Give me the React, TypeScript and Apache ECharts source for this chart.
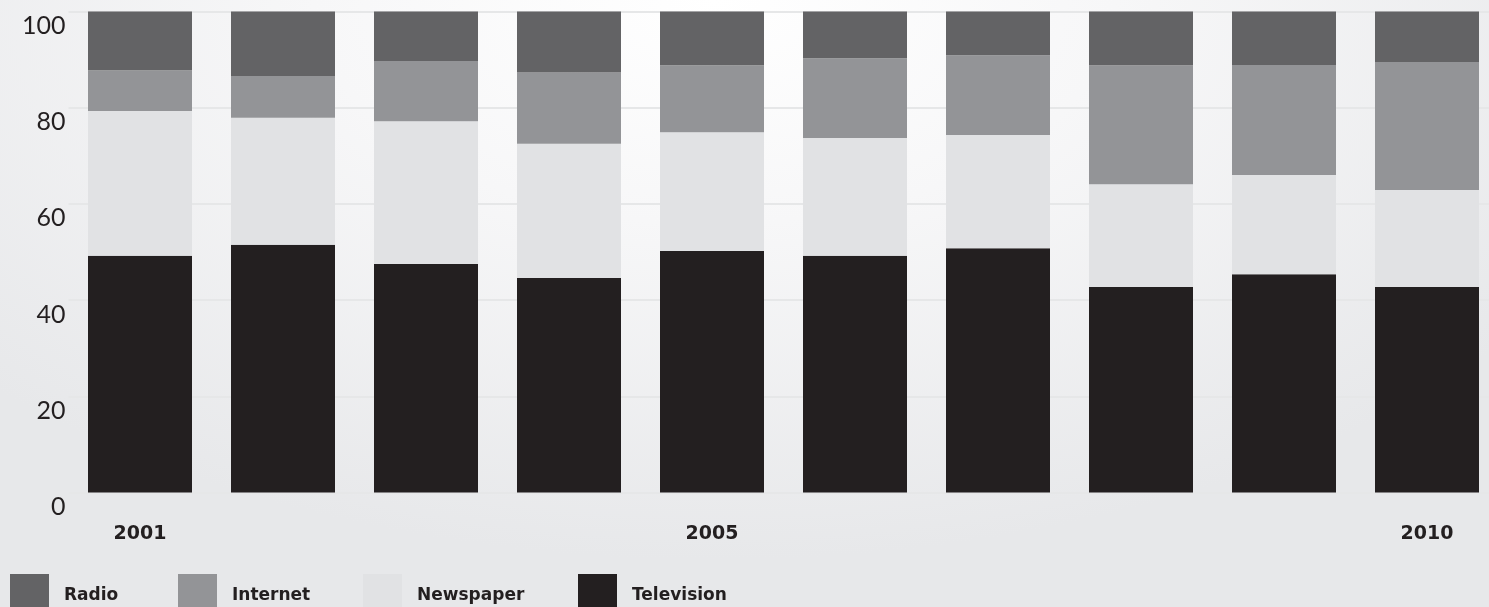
import React, { useEffect, useRef } from "react";
import * as echarts from "echarts";

const years = ["2001", "2002", "2003", "2004", "2005", "2006", "2007", "2008", "2009", "2010"];
const television = [49.2, 51.5, 47.5, 44.6, 50.2, 49.2, 50.8, 42.7, 45.4, 42.7];
const newspaper = [30.1, 26.4, 29.7, 27.9, 24.7, 24.5, 23.5, 21.4, 20.6, 20.2];
const internet = [8.5, 8.7, 12.5, 14.8, 13.9, 16.6, 16.6, 24.7, 22.9, 26.6];
const radio = [12.2, 13.4, 10.3, 12.7, 11.2, 9.7, 9.1, 11.2, 11.1, 10.5];
const shownYearIdx = [0, 4, 9];
const legendNames = ["Radio", "Internet", "Newspaper", "Television"];
const legendLeft = [10, 178, 363, 578];

const colors: Record<string, string> = {
  Television: "#231f20",
  Newspaper: "#e1e2e4",
  Internet: "#939497",
  Radio: "#636365",
};

export default function App() {
  const ref = useRef<HTMLDivElement>(null);
  useEffect(() => {
    document.body.style.margin = "0";
    const chart = echarts.init(ref.current!, null, { renderer: "svg" });
    const mk = (name: string, data: number[]) => ({
      name,
      type: "bar",
      stack: "total",
      barWidth: 104,
      data,
      itemStyle: { color: colors[name] },
      emphasis: { disabled: true },
    });
    chart.setOption({
      animation: false,
      backgroundColor: "transparent",
      grid: {
        left: 68.5,
        width: 1430,
        top: 11.5,
        bottom: 114.5,
        containLabel: false,
        outerBoundsMode: "none",
      },
      xAxis: {
        type: "category",
        data: years,
        axisLine: { show: false },
        axisTick: { show: false },
        axisLabel: {
          interval: (i: number) => shownYearIdx.includes(i),
          margin: 30,
          color: "#231f20",
          fontFamily: "DejaVu Sans",
          fontWeight: "bold",
          fontSize: 19,
        },
      },
      yAxis: {
        type: "value",
        min: 0,
        max: 100,
        interval: 20,
        axisLine: { show: false },
        axisTick: { show: false },
        splitLine: { show: true, lineStyle: { color: "#e6e7e8", width: 2 } },
        axisLabel: {
          margin: 3,
          color: "#231f20",
          fontFamily: "Lato",
          fontSize: 25,
          verticalAlign: "top",
        },
      },
      legend: legendNames.map((n, i) => ({
        data: [n],
        left: legendLeft[i],
        top: 574,
        itemWidth: 39,
        itemHeight: 39,
        icon: "rect",
        selectedMode: false,
        padding: 0,
        textStyle: {
          color: "#231f20",
          fontFamily: "DejaVu Sans",
          fontWeight: "bold",
          fontSize: 17,
          padding: [0, 0, 0, 10],
        },
      })),
      series: [
        mk("Television", television),
        mk("Newspaper", newspaper),
        mk("Internet", internet),
        mk("Radio", radio),
      ],
    });
    return () => chart.dispose();
  }, []);
  return (
    <div
      ref={ref}
      style={{
        position: "fixed",
        left: 0,
        top: 0,
        width: 1489,
        height: 607,
        background:
          "radial-gradient(ellipse 1000px 560px at 48% 0%, #ffffff 0%, #f7f7f8 40%, #e7e8ea 100%)",
      }}
    />
  );
}
